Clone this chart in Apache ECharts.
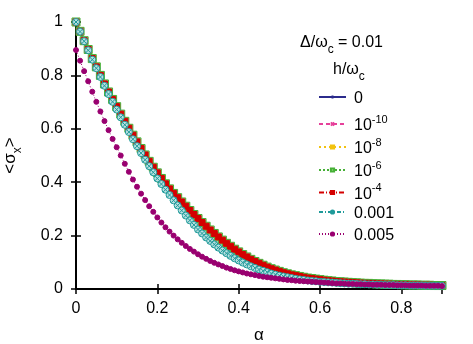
<!DOCTYPE html>
<html>
<head>
<meta charset="utf-8">
<script src="https://cdn.jsdelivr.net/npm/echarts@6/dist/echarts.min.js"></script>
<style>
  html, body { margin: 0; padding: 0; background: #fff; }
  #chart { width: 473px; height: 344px; }
</style>
</head>
<body>
<div id="chart"></div>
<script>
// alpha grid, step 0.01
var alpha = [
  0.00, 0.01, 0.02, 0.03, 0.04, 0.05, 0.06, 0.07, 0.08, 0.09,
  0.10, 0.11, 0.12, 0.13, 0.14, 0.15, 0.16, 0.17, 0.18, 0.19,
  0.20, 0.21, 0.22, 0.23, 0.24, 0.25, 0.26, 0.27, 0.28, 0.29,
  0.30, 0.31, 0.32, 0.33, 0.34, 0.35, 0.36, 0.37, 0.38, 0.39,
  0.40, 0.41, 0.42, 0.43, 0.44, 0.45, 0.46, 0.47, 0.48, 0.49,
  0.50, 0.51, 0.52, 0.53, 0.54, 0.55, 0.56, 0.57, 0.58, 0.59,
  0.60, 0.61, 0.62, 0.63, 0.64, 0.65, 0.66, 0.67, 0.68, 0.69,
  0.70, 0.71, 0.72, 0.73, 0.74, 0.75, 0.76, 0.77, 0.78, 0.79,
  0.80, 0.81, 0.82, 0.83, 0.84, 0.85, 0.86, 0.87, 0.88, 0.89,
  0.90
];

// h/wc = 0 ... 1e-4 lie on top of each other
var sigmaSmallH = [
  1.0, 0.965, 0.93, 0.897, 0.863, 0.832, 0.80, 0.768, 0.738, 0.71,
  0.683, 0.655, 0.628, 0.602, 0.576, 0.551, 0.526, 0.502, 0.478, 0.456,
  0.435, 0.414, 0.394, 0.375, 0.358, 0.342, 0.326, 0.31, 0.294, 0.279,
  0.264, 0.249, 0.235, 0.221, 0.208, 0.195, 0.183, 0.171, 0.16, 0.149,
  0.139, 0.129, 0.12, 0.111, 0.103, 0.096, 0.089, 0.082, 0.076, 0.071,
  0.066, 0.061, 0.057, 0.053, 0.05, 0.047, 0.044, 0.041, 0.039, 0.037,
  0.035, 0.033, 0.031, 0.03, 0.028, 0.027, 0.026, 0.025, 0.024, 0.023,
  0.022, 0.021, 0.021, 0.02, 0.019, 0.019, 0.018, 0.018, 0.017, 0.017,
  0.016, 0.016, 0.015, 0.015, 0.015, 0.014, 0.014, 0.014, 0.013, 0.013,
  0.013
];

// h/wc = 0.001
var sigmaH001 = [
  1.0, 0.964, 0.928, 0.894, 0.859, 0.827, 0.794, 0.761, 0.73, 0.701,
  0.672, 0.643, 0.615, 0.588, 0.561, 0.535, 0.509, 0.484, 0.46, 0.437,
  0.414, 0.393, 0.372, 0.352, 0.332, 0.313, 0.294, 0.275, 0.257, 0.24,
  0.223, 0.208, 0.193, 0.18, 0.167, 0.155, 0.144, 0.134, 0.124, 0.115,
  0.107, 0.099, 0.092, 0.085, 0.079, 0.073, 0.068, 0.063, 0.058, 0.054,
  0.05, 0.047, 0.044, 0.041, 0.038, 0.036, 0.034, 0.032, 0.03, 0.029,
  0.027, 0.026, 0.025, 0.024, 0.023, 0.022, 0.021, 0.02, 0.02, 0.019,
  0.018, 0.018, 0.017, 0.017, 0.016, 0.016, 0.015, 0.015, 0.015, 0.014,
  0.014, 0.014, 0.013, 0.013, 0.013, 0.013, 0.012, 0.012, 0.012, 0.012,
  0.012
];

// h/wc = 0.005
var sigmaH005 = [
  0.895, 0.855, 0.816, 0.778, 0.739, 0.701, 0.665, 0.629, 0.595, 0.562,
  0.531, 0.5, 0.469, 0.439, 0.41, 0.383, 0.357, 0.333, 0.31, 0.289,
  0.268, 0.249, 0.231, 0.215, 0.2, 0.186, 0.173, 0.161, 0.15, 0.14,
  0.13, 0.121, 0.113, 0.105, 0.098, 0.092, 0.086, 0.08, 0.075, 0.07,
  0.066, 0.062, 0.058, 0.055, 0.052, 0.049, 0.046, 0.044, 0.042, 0.04,
  0.038, 0.036, 0.034, 0.033, 0.031, 0.03, 0.029, 0.028, 0.027, 0.026,
  0.025, 0.024, 0.023, 0.022, 0.021, 0.021, 0.02, 0.019, 0.019, 0.018,
  0.018, 0.017, 0.017, 0.016, 0.016, 0.016, 0.015, 0.015, 0.015, 0.014,
  0.014, 0.014, 0.013, 0.013, 0.013, 0.013, 0.012, 0.012, 0.012, 0.012,
  0.011
];

var seriesNames = ['0', '1e-10', '1e-8', '1e-6', '1e-4', '0.001', '0.005'];
var legendLabels = ['{b|0}', '{b|10}{sup|-10}', '{b|10}{sup|-8}', '{b|10}{sup|-6}', '{b|10}{sup|-4}', '{b|0.001}', '{b|0.005}'];

var FONT = '"Liberation Sans", Arial, sans-serif';

function pts(values) {
  return alpha.map(function (a, i) { return [a, values[i]]; });
}

var plus = 'path://M0,5L10,5M5,0L5,10';
var cross = 'path://M0,0L10,10M10,0L0,10';
var circleX = 'path://M10,5A5,5 0 1 1 0,5A5,5 0 1 1 10,5ZM1.6,1.6L8.4,8.4M8.4,1.6L1.6,8.4';

var styles = [
  { data: sigmaSmallH, color: '#2b2b8c', symbol: plus, size: 6, fill: 'none', dash: 'solid' },
  { data: sigmaSmallH, color: '#e6409a', symbol: cross, size: 6, fill: 'none', dash: [4, 3] },
  { data: sigmaSmallH, color: '#f2c20f', symbol: 'rect', size: 5, fill: '#f2c20f', dash: [2, 3] },
  { data: sigmaSmallH, color: '#46b036', symbol: 'rect', size: 8, fill: '#a5da95', dash: [2, 2] },
  { data: sigmaSmallH, color: '#d40000', symbol: 'rect', size: 6, fill: '#d40000', dash: [5, 2, 1, 2] },
  { data: sigmaH001, color: '#1f9a9a', symbol: circleX, size: 7, fill: '#b8e0e0', dash: [4, 2, 1, 2] },
  { data: sigmaH005, color: '#990070', symbol: 'circle', size: 5, fill: '#990070', dash: [1, 2] }
];

var series = styles.map(function (s, i) {
  return {
    name: seriesNames[i],
    type: 'line',
    data: pts(s.data),
    clip: false,
    symbol: s.symbol,
    symbolSize: s.size,
    showAllSymbol: true,
    lineStyle: { color: s.color, width: 1, type: s.dash },
    itemStyle: { color: s.fill, borderColor: s.color, borderWidth: 1 },
    emphasis: { disabled: true },
    z: 2 + i
  };
});

var legendTops = [96, 119, 142, 165, 187.5, 211, 233];
var legends = seriesNames.map(function (n, i) {
  return {
    data: [n],
    orient: 'vertical',
    left: 313,
    top: legendTops[i] - 10,
    itemWidth: 27,
    itemHeight: 4,
    selectedMode: false,
    formatter: function () { return legendLabels[i]; },
    textStyle: {
      padding: [0, 0, 0, 3],
      rich: {
        b: { fontFamily: FONT, fontSize: 16, color: '#000', lineHeight: 20, verticalAlign: 'bottom' },
        sup: { fontFamily: FONT, fontSize: 11, color: '#000', lineHeight: 20, verticalAlign: 'top' }
      }
    }
  };
});

var axisLine = { show: true, lineStyle: { color: '#000', width: 2 } };
var axisTick = { show: true, inside: true, length: 5, lineStyle: { color: '#000', width: 1.5 } };

var option = {
  animation: false,
  backgroundColor: '#fff',
  grid: { left: 76, right: 31, top: 22, bottom: 55, containLabel: false, outerBoundsMode: 'none' },
  legend: legends,
  xAxis: [{
    type: 'value', min: 0, max: 0.9, interval: 0.2, position: 'bottom',
    axisLine: axisLine, axisTick: axisTick, splitLine: { show: false },
    axisLabel: { color: '#000', fontFamily: FONT, fontSize: 16, margin: 12, showMaxLabel: false },
    name: 'α', nameLocation: 'middle', nameGap: 38,
    nameTextStyle: { color: '#000', fontFamily: FONT, fontSize: 17 }
  }, {
    type: 'value', min: 0, max: 0.9, interval: 0.2, position: 'top',
    axisLine: axisLine, axisTick: axisTick, splitLine: { show: false },
    axisLabel: { show: false }
  }],
  yAxis: [{
    type: 'value', min: 0, max: 1, interval: 0.2, position: 'left',
    axisLine: axisLine, axisTick: axisTick, splitLine: { show: false },
    axisLabel: { color: '#000', fontFamily: FONT, fontSize: 16, margin: 13 },
    name: '{b|<σ}{sub|x}{b|>}', nameLocation: 'middle', nameGap: 52, nameRotate: 90,
    nameTextStyle: {
      rich: {
        b: { fontFamily: FONT, fontSize: 17, color: '#000', lineHeight: 22, verticalAlign: 'top' },
        sub: { fontFamily: FONT, fontSize: 12, color: '#000', lineHeight: 22, verticalAlign: 'bottom' }
      }
    }
  }, {
    type: 'value', min: 0, max: 1, interval: 0.2, position: 'right',
    axisLine: axisLine, axisTick: axisTick, splitLine: { show: false },
    axisLabel: { show: false }
  }],
  graphic: [{
    type: 'text', left: 300, top: 35,
    style: {
      text: '{b|Δ/ω}{sub|c}{b| = 0.01}',
      rich: {
        b: { fontFamily: FONT, fontSize: 16, fill: '#000', lineHeight: 21, verticalAlign: 'top' },
        sub: { fontFamily: FONT, fontSize: 12, fill: '#000', lineHeight: 21, verticalAlign: 'bottom' }
      }
    }
  }, {
    type: 'text', left: 333, top: 62,
    style: {
      text: '{b|h/ω}{sub|c}',
      rich: {
        b: { fontFamily: FONT, fontSize: 16, fill: '#000', lineHeight: 21, verticalAlign: 'top' },
        sub: { fontFamily: FONT, fontSize: 12, fill: '#000', lineHeight: 21, verticalAlign: 'bottom' }
      }
    }
  }],
  series: series
};

var chart = echarts.init(document.getElementById('chart'), null, { renderer: 'canvas' });
chart.setOption(option);
</script>
</body>
</html>
